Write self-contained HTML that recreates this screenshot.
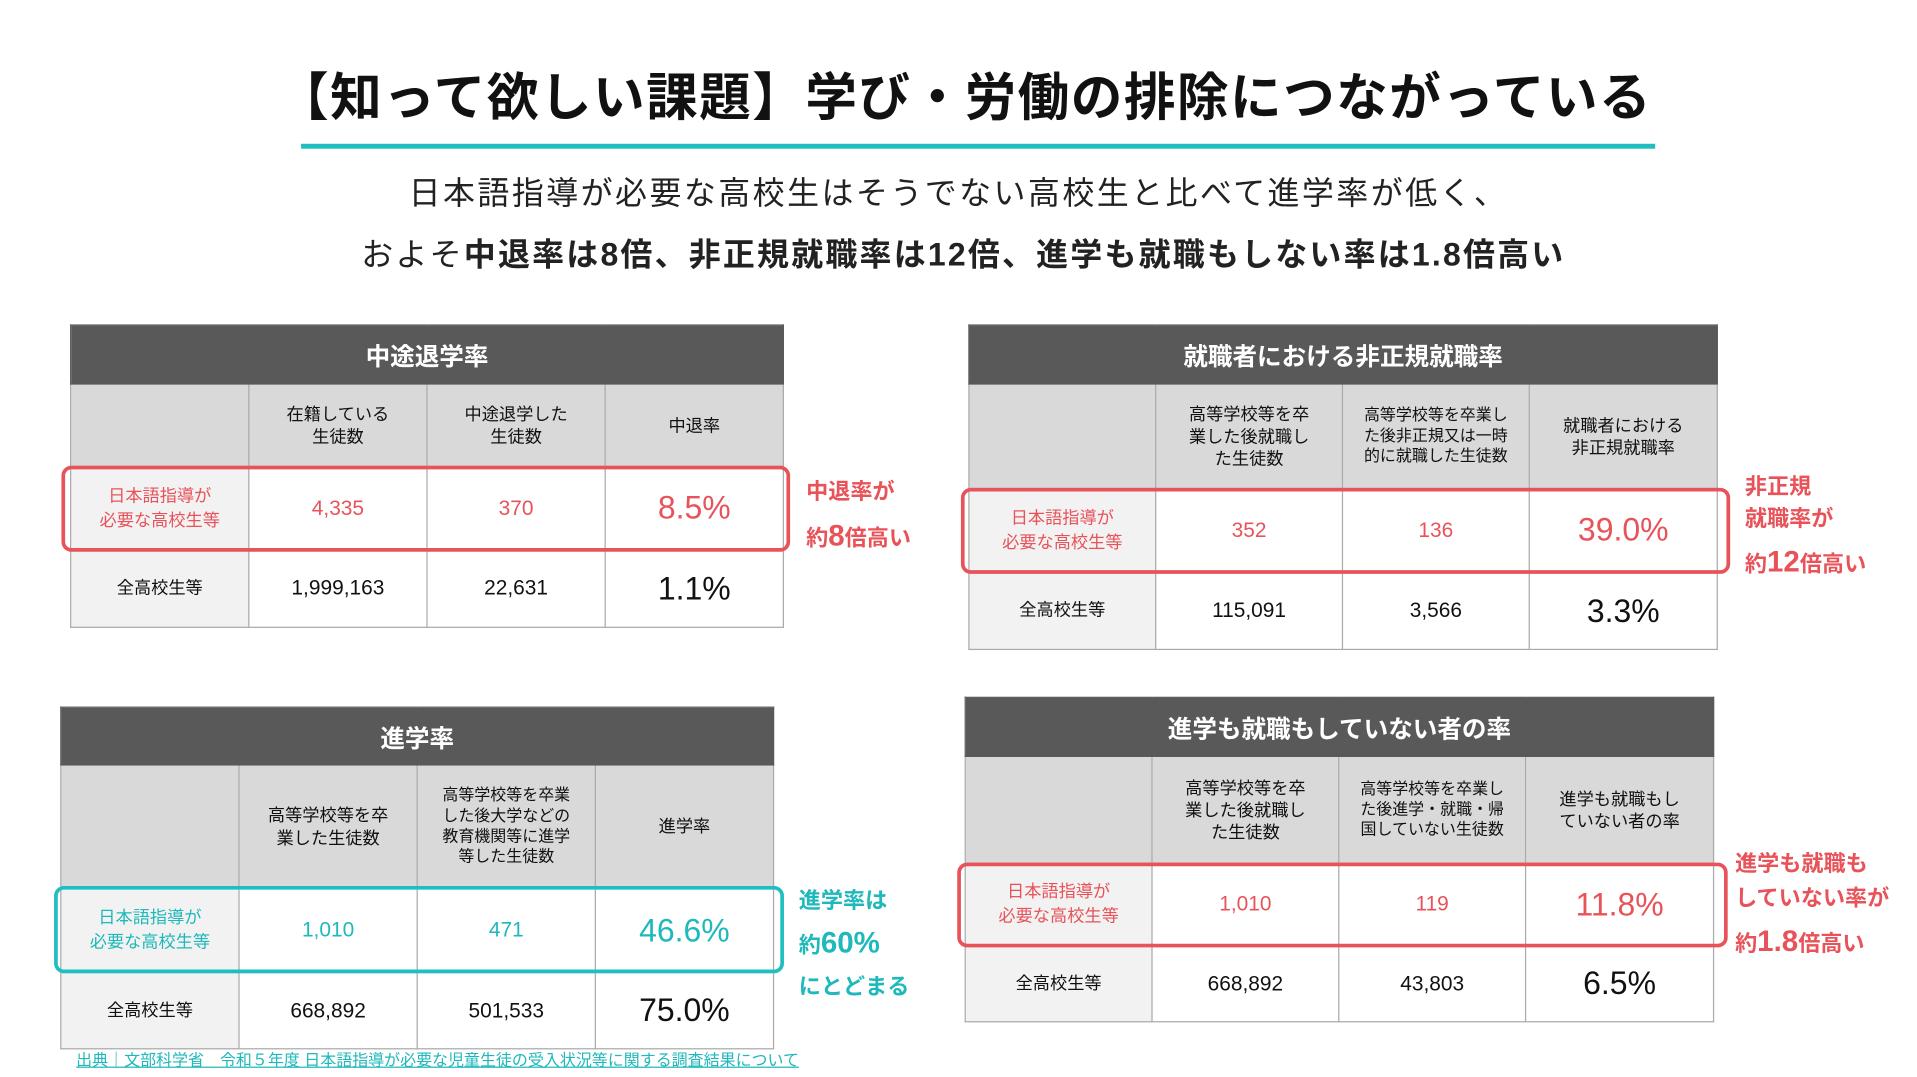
<!DOCTYPE html>
<html><head><meta charset="utf-8"><style>
html,body{margin:0;padding:0;background:#fff;}
body{width:1917px;height:1077px;overflow:hidden;position:relative;font-family:"Liberation Sans","Noto Sans CJK JP",sans-serif;}
#w{position:absolute;left:0;top:0;width:1560px;height:876px;transform:scale(1.2288);transform-origin:0 0;}
.a{position:absolute;}
table{position:absolute;border-collapse:collapse;table-layout:fixed;}
td{border:1px solid #aaa;text-align:center;vertical-align:middle;padding:0;color:#111;}
td.h{background:#595959;color:#fff;font-weight:bold;font-size:20px;border-color:#595959;}
tr.c td{background:#d9d9d9;font-size:14px;line-height:1.3;}
td.l{background:#f2f2f2;font-size:14px;line-height:1.4;}
td.n{font-size:17px;}
td.p{font-size:26px;}
.r td.n,.r td.p,.r td.l{color:#e8535a;}
.t td.n,.t td.p,.t td.l{color:#1fb8bb;}
.box{position:absolute;border:3px solid #e8535a;border-radius:8px;box-sizing:border-box;}
.tb{border-color:#1fbfc1;}
.ann{position:absolute;font-weight:bold;color:#e8535a;font-size:18px;line-height:1;}
.ann b{font-size:24px;}
.tc{color:#1fb8bb;}
</style></head><body><div id="w">
<div class="a" style="left:0;width:1570px;top:54px;text-align:center;font-size:42px;letter-spacing:1.2px;font-weight:bold;color:#111;line-height:52px;">【知って欲しい課題】学び・労働の排除につながっている</div>
<div class="a" style="left:245px;top:117px;width:1102px;height:4px;background:#1fbfc1;"></div>
<div class="a" style="left:0;width:1560px;top:140px;text-align:center;font-size:26px;letter-spacing:2px;color:#222;line-height:34px;">日本語指導が必要な高校生はそうでない高校生と比べて進学率が低く、</div>
<div class="a" style="left:0;width:1568px;top:190px;text-align:center;font-size:26px;letter-spacing:1.8px;color:#222;line-height:34px;">およそ<b>中退率は8倍、非正規就職率は12倍、進学も就職もしない率は1.8倍高い</b></div>

<table style="left:57px;top:264px;width:580px;">
<colgroup><col style="width:145px"><col style="width:145px"><col style="width:145px"><col style="width:145px"></colgroup>
<tr style="height:48px"><td class="h" colspan="4">中途退学率</td></tr>
<tr class="c" style="height:67px"><td></td><td>在籍している<br>生徒数</td><td>中途退学した<br>生徒数</td><td>中退率</td></tr>
<tr class="r" style="height:68px"><td class="l">日本語指導が<br>必要な高校生等</td><td class="n">4,335</td><td class="n">370</td><td class="p">8.5%</td></tr>
<tr style="height:63px"><td class="l">全高校生等</td><td class="n">1,999,163</td><td class="n">22,631</td><td class="p">1.1%</td></tr>
</table>
<div class="box" style="left:50px;top:379px;width:593px;height:70px;"></div>
<div class="ann" style="left:656px;top:391px;">中退率が</div>
<div class="ann" style="left:656px;top:425px;">約<b>8</b>倍高い</div>

<table style="left:788px;top:264px;width:609px;">
<colgroup><col style="width:152px"><col style="width:152px"><col style="width:152px"><col style="width:153px"></colgroup>
<tr style="height:48px"><td class="h" colspan="4">就職者における非正規就職率</td></tr>
<tr class="c" style="height:85px"><td></td><td>高等学校等を卒<br>業した後就職し<br>た生徒数</td><td style="font-size:13px">高等学校等を卒業し<br>た後非正規又は一時<br>的に就職した生徒数</td><td>就職者における<br>非正規就職率</td></tr>
<tr class="r" style="height:68px"><td class="l">日本語指導が<br>必要な高校生等</td><td class="n">352</td><td class="n">136</td><td class="p">39.0%</td></tr>
<tr style="height:63px"><td class="l">全高校生等</td><td class="n">115,091</td><td class="n">3,566</td><td class="p">3.3%</td></tr>
</table>
<div class="box" style="left:782px;top:397px;width:626px;height:70px;"></div>
<div class="ann" style="left:1420px;top:387px;">非正規</div>
<div class="ann" style="left:1420px;top:413px;">就職率が</div>
<div class="ann" style="left:1420px;top:446px;">約<b>12</b>倍高い</div>

<table style="left:49px;top:575px;width:580px;">
<colgroup><col style="width:145px"><col style="width:145px"><col style="width:145px"><col style="width:145px"></colgroup>
<tr style="height:47px"><td class="h" colspan="4">進学率</td></tr>
<tr class="c" style="height:100px"><td></td><td>高等学校等を卒<br>業した生徒数</td><td style="font-size:13px">高等学校等を卒業<br>した後大学などの<br>教育機関等に進学<br>等した生徒数</td><td>進学率</td></tr>
<tr class="t" style="height:69px"><td class="l">日本語指導が<br>必要な高校生等</td><td class="n">1,010</td><td class="n">471</td><td class="p">46.6%</td></tr>
<tr style="height:62px"><td class="l">全高校生等</td><td class="n">668,892</td><td class="n">501,533</td><td class="p">75.0%</td></tr>
</table>
<div class="box tb" style="left:44px;top:721px;width:594px;height:71px;"></div>
<div class="ann tc" style="left:650px;top:724px;">進学率は</div>
<div class="ann tc" style="left:650px;top:756px;">約<b>60%</b></div>
<div class="ann tc" style="left:650px;top:794px;">にとどまる</div>

<table style="left:785px;top:567px;width:609px;">
<colgroup><col style="width:152px"><col style="width:152px"><col style="width:152px"><col style="width:153px"></colgroup>
<tr style="height:48px"><td class="h" colspan="4">進学も就職もしていない者の率</td></tr>
<tr class="c" style="height:87px"><td></td><td>高等学校等を卒<br>業した後就職し<br>た生徒数</td><td style="font-size:13px">高等学校等を卒業し<br>た後進学・就職・帰<br>国していない生徒数</td><td>進学も就職もし<br>ていない者の率</td></tr>
<tr class="r" style="height:67px"><td class="l">日本語指導が<br>必要な高校生等</td><td class="n">1,010</td><td class="n">119</td><td class="p">11.8%</td></tr>
<tr style="height:62px"><td class="l">全高校生等</td><td class="n">668,892</td><td class="n">43,803</td><td class="p">6.5%</td></tr>
</table>
<div class="box" style="left:779px;top:702px;width:627px;height:69px;"></div>
<div class="ann" style="left:1412px;top:694px;">進学も就職も</div>
<div class="ann" style="left:1412px;top:722px;">していない率が</div>
<div class="ann" style="left:1412px;top:755px;">約<b>1.8</b>倍高い</div>

<div class="a" style="left:62px;top:855px;font-size:13px;color:#1fb8bb;text-decoration:underline;line-height:16px;">出典｜文部科学省　令和５年度 日本語指導が必要な児童生徒の受入状況等に関する調査結果について</div>
</div></body></html>
